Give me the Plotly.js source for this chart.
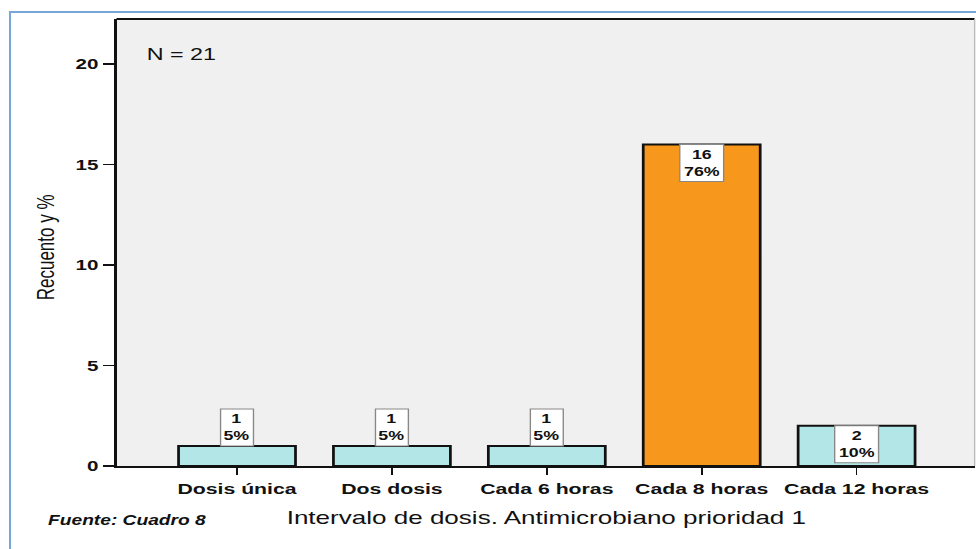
<!DOCTYPE html>
<html>
<head>
<meta charset="utf-8">
<script src="https://cdn.plot.ly/plotly-3.0.1.min.js"></script>
<style>
  body { margin: 0; background: #fff; }
  #wrap { position: relative; width: 976px; height: 549px; overflow: hidden; }
  #frame { position: absolute; left: 9px; top: 11px; width: 1000px; height: 600px;
           border-left: 2px solid #79a6da; border-top: 2px solid #79a6da; pointer-events: none; }
  /* the source picture is stretched sideways, so draw narrow and widen */
  #chart { position: absolute; left: 0; top: 0; width: 712px; height: 549px;
           transform: scaleX(1.3708); transform-origin: 0 0; }
</style>
</head>
<body>
<div id="wrap">
  <div id="chart"></div>
  <div id="frame"></div>
</div>
<script>
const categories = ["Dosis única", "Dos dosis", "Cada 6 horas", "Cada 8 horas", "Cada 12 horas"];
const counts = [1, 1, 1, 16, 2];
const percents = ["5%", "5%", "5%", "76%", "10%"];
const barColors = ["#b3e6e6", "#b3e6e6", "#b3e6e6", "#f7981d", "#b3e6e6"];

const font = "Liberation Sans, Arial, sans-serif";

const trace = {
  x: categories.map((c, i) => i),
  y: counts,
  type: "bar",
  width: 0.755,
  hoverinfo: "none",
  marker: {
    color: barColors,
    line: { color: "#111", width: 2 }
  }
};

const shapes = [];
const annotations = [];

// white value boxes: above the short bars, inside the taller ones
counts.forEach((v, i) => {
  const inside = v >= 2;
  const half = percents[i].length > 2 ? 16 : 12;
  shapes.push({
    type: "rect", xref: "x", yref: "y",
    xsizemode: "pixel", ysizemode: "pixel",
    xanchor: i, yanchor: v,
    x0: -half, x1: half,
    y0: 0, y1: inside ? -37 : 37,
    fillcolor: "#fff",
    line: { color: "#888", width: 1 }
  });
  annotations.push({
    x: i, y: v, xref: "x", yref: "y",
    text: "<b>" + v + "<br>" + percents[i] + "</b>",
    showarrow: false,
    xanchor: "center", yanchor: "middle",
    yshift: inside ? -18.5 : 18.5,
    font: { family: font, size: 13, color: "#111" }
  });
});

annotations.push({
  xref: "paper", yref: "paper",
  x: 0.032, y: 0.9206,
  xanchor: "left", yanchor: "middle",
  text: "N = 21",
  showarrow: false,
  font: { family: font, size: 17, color: "#111" }
});

annotations.push({
  xref: "paper", yref: "paper",
  x: -0.0834, y: -0.121,
  xanchor: "left", yanchor: "middle",
  text: "<b><i>Fuente: Cuadro 8</i></b>",
  showarrow: false,
  font: { family: font, size: 14, color: "#111" }
});

annotations.push({
  xref: "paper", yref: "paper",
  x: -0.081, y: 0.49,
  xanchor: "center", yanchor: "middle",
  textangle: -90,
  text: "Recuento y %",
  showarrow: false,
  font: { family: font, size: 17, color: "#111" }
});

annotations.push({
  xref: "paper", yref: "paper",
  x: 0.5, y: -0.116,
  xanchor: "center", yanchor: "middle",
  text: "Intervalo de dosis. Antimicrobiano prioridad 1",
  showarrow: false,
  font: { family: font, size: 19, color: "#111" }
});

shapes.push(
  { type: "line", xref: "paper", yref: "paper", x0: 0, x1: 1, y0: 1, y1: 1,
    line: { color: "#111", width: 2 } },
  { type: "line", xref: "paper", yref: "paper", x0: 1, x1: 1, y0: 0, y1: 1,
    line: { color: "#bbb", width: 1 } }
);

const layout = {
  width: 712,
  height: 549,
  paper_bgcolor: "rgba(0,0,0,0)",
  plot_bgcolor: "#f0f0f0",
  showlegend: false,
  font: { family: font, color: "#111" },
  margin: { t: 19, l: 85, r: 1, b: 83 },
  xaxis: {
    range: [-0.778, 4.762],
    tickvals: [0, 1, 2, 3, 4],
    ticktext: categories.map(c => "<b>" + c + "</b>"),
    ticks: "outside",
    ticklen: 7,
    tickwidth: 1.2,
    tickcolor: "#111",
    tickfont: { size: 15.5, family: font },
    showgrid: false,
    zeroline: false,
    showline: true,
    linecolor: "#111",
    linewidth: 2
  },
  yaxis: {
    range: [0, 22.24],
    tickvals: [0, 5, 10, 15, 20],
    ticktext: ["<b>0</b>", "<b>5</b>", "<b>10</b>", "<b>15</b>", "<b>20</b>"],
    ticks: "outside",
    ticklen: 8,
    tickwidth: 1.5,
    tickcolor: "#111",
    tickfont: { size: 15, family: font },
    showgrid: false,
    zeroline: false,
    showline: true,
    linecolor: "#111",
    linewidth: 2.2
  },
  shapes: shapes,
  annotations: annotations
};

Plotly.newPlot("chart", [trace], layout, { displayModeBar: false, staticPlot: true });
</script>
</body>
</html>
